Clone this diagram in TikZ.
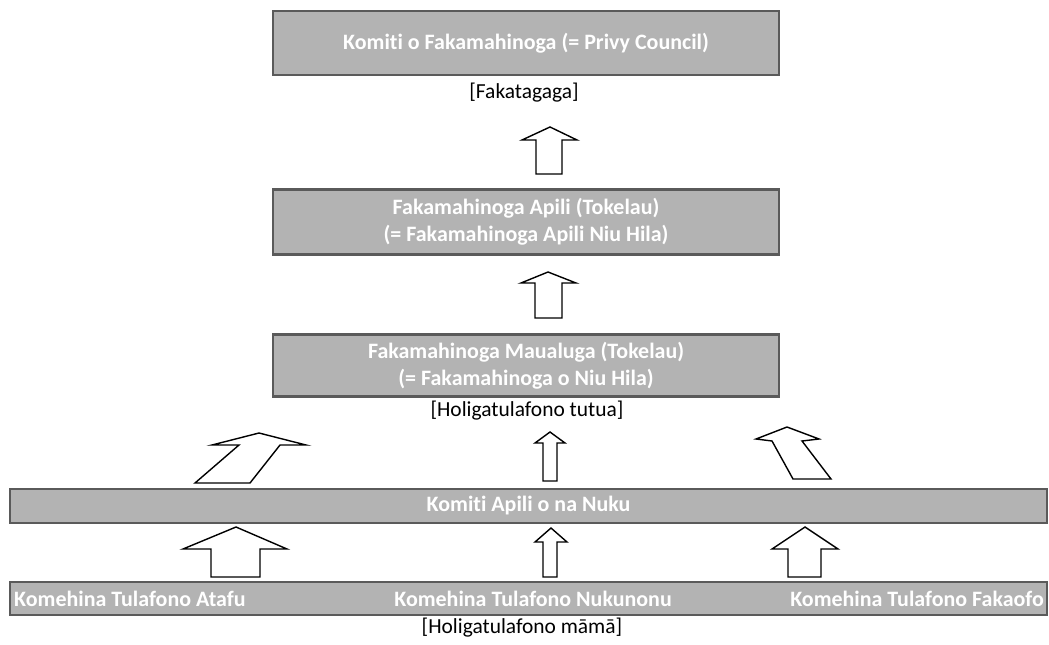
\documentclass[tikz,border=0pt]{standalone}
\usepackage{fontspec}
\setmainfont{Carlito}[Ligatures={NoCommon}]
\usepackage{tikz}
\usetikzlibrary{arrows.meta}

\definecolor{boxfill}{RGB}{179,179,179}
\definecolor{boxline}{RGB}{90,90,90}

\begin{document}
\begin{tikzpicture}[
    box/.style={draw=boxline, line width=0.7pt, fill=boxfill, text=white,
        font=\fontsize{6.25}{7.7}\selectfont\bfseries, align=center, inner sep=0pt},
    lbl/.style={font=\fontsize{6.1}{7.3}\selectfont, inner sep=0pt},
    blockarrow/.style={draw=black, fill=white, line width=0.4pt, line join=miter}
]

    \useasboundingbox (0,0) rectangle (10.49,-6.44);

    % main boxes
    \node[box, minimum width=5.06cm, minimum height=0.64cm] (privy) at (5.26,-0.43) {Komiti o Fakamahinoga (= Privy Council)};
    \node[lbl] (fakatagaga) at (5.24,-0.93) {[Fakatagaga]};

    \node[box, minimum width=5.06cm, minimum height=0.65cm] (apili) at (5.26,-2.22) {Fakamahinoga Apili (Tokelau)\\(= Fakamahinoga Apili Niu Hila)};

    \node[box, minimum width=5.06cm, minimum height=0.62cm] (maualuga) at (5.26,-3.655) {Fakamahinoga Maualuga (Tokelau)\\(= Fakamahinoga o Niu Hila)};
    \node[lbl] (tutua) at (5.27,-4.11) {[Holigatulafono tutua]};

    \node[box, minimum width=10.37cm, minimum height=0.34cm] (nuku) at (5.285,-5.06) {Komiti Apili o na Nuku};

    % bottom row (three islands in one bar)
    \node[box, minimum width=10.37cm, minimum height=0.33cm] (komehina) at (5.285,-5.985) {};
    \node[box, draw=none, fill=none, anchor=west] (atafu) at (0.13,-5.985) {Komehina Tulafono Atafu};
    \node[box, draw=none, fill=none] (nukunonu) at (5.33,-5.985) {Komehina Tulafono Nukunonu};
    \node[box, draw=none, fill=none, anchor=east] (fakaofo) at (10.45,-5.985) {Komehina Tulafono Fakaofo};
    \node[lbl] (mama) at (5.22,-6.28) {[Holigatulafono māmā]};

    % block arrows
    \draw[blockarrow] (5.36,-1.74) -- (5.36,-1.40) -- (5.22,-1.40) -- (5.50,-1.27) -- (5.77,-1.40) -- (5.62,-1.40) -- (5.62,-1.74) -- cycle; % apili -> privy
    \draw[blockarrow] (5.35,-3.18) -- (5.35,-2.83) -- (5.21,-2.83) -- (5.48,-2.72) -- (5.76,-2.83) -- (5.62,-2.83) -- (5.62,-3.18) -- cycle; % maualuga -> apili

    \draw[blockarrow] (1.95,-4.83) -- (2.39,-4.45) -- (2.12,-4.45) -- (2.59,-4.33) -- (3.06,-4.45) -- (2.80,-4.45) -- (2.50,-4.83) -- cycle; % nuku -> maualuga (left)
    \draw[blockarrow] (5.43,-4.81) -- (5.43,-4.43) -- (5.35,-4.43) -- (5.50,-4.32) -- (5.65,-4.43) -- (5.57,-4.43) -- (5.57,-4.81) -- cycle; % nuku -> maualuga (middle)
    \draw[blockarrow] (7.93,-4.79) -- (7.72,-4.41) -- (7.56,-4.39) -- (7.87,-4.27) -- (8.19,-4.39) -- (8.02,-4.41) -- (8.31,-4.79) -- cycle; % nuku -> maualuga (right)

    \draw[blockarrow] (2.11,-5.77) -- (2.11,-5.49) -- (1.83,-5.49) -- (2.36,-5.27) -- (2.87,-5.49) -- (2.60,-5.49) -- (2.60,-5.77) -- cycle; % atafu -> nuku
    \draw[blockarrow] (5.43,-5.77) -- (5.43,-5.42) -- (5.35,-5.42) -- (5.51,-5.28) -- (5.67,-5.42) -- (5.57,-5.42) -- (5.57,-5.77) -- cycle; % nukunonu -> nuku
    \draw[blockarrow] (7.88,-5.77) -- (7.88,-5.49) -- (7.72,-5.49) -- (8.05,-5.27) -- (8.38,-5.49) -- (8.21,-5.49) -- (8.21,-5.77) -- cycle; % fakaofo -> nuku

\end{tikzpicture}
\end{document}
